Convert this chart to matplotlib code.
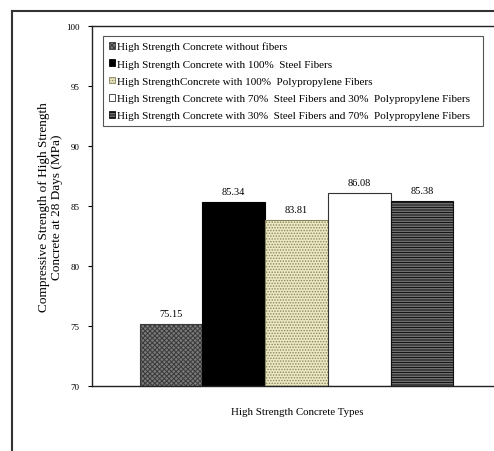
import numpy as np
import matplotlib.pyplot as plt
from matplotlib.patches import Patch
from matplotlib.lines import Line2D

plt.rcParams['font.family'] = ['Liberation Serif', 'DejaVu Serif']
plt.rcParams['hatch.linewidth'] = 0.7

labels = [
    "High Strength Concrete without fibers",
    "High Strength Concrete with 100%  Steel Fibers",
    "High StrengthConcrete with 100%  Polypropylene Fibers",
    "High Strength Concrete with 70%  Steel Fibers and 30%  Polypropylene Fibers",
    "High Strength Concrete with 30%  Steel Fibers and 70%  Polypropylene Fibers",
]
values = [75.15, 85.34, 83.81, 86.08, 85.38]
value_text = ["75.15", "85.34", "83.81", "86.08", "85.38"]
yticks = [70, 75, 80, 85, 90, 95, 100]

styles = [
    dict(facecolor='#7a7a7a', edgecolor='#3a3a3a', hatch='xxxxxxx'),
    dict(facecolor='#000000', edgecolor='#000000', hatch=None),
    dict(facecolor='#ece8c2', edgecolor='#8a8660', hatch='......'),
    dict(facecolor='#ffffff', edgecolor='#333333', hatch=None),
    dict(facecolor='#9a9a9a', edgecolor='#111111', hatch='----------'),
]

fig = plt.figure(figsize=(4.94, 4.52), dpi=100)
ax = fig.add_axes([92 / 494, 1 - 387 / 452, 409 / 494, 360 / 452])

x = np.arange(len(values))
for i, (v, st) in enumerate(zip(values, styles)):
    ax.bar(x[i], v - 70, bottom=70, width=1.0, linewidth=0.8, **st)
    ax.annotate(value_text[i], (x[i], v), xytext=(0, 4.5), textcoords='offset points',
                ha='center', va='bottom', fontsize=7.5)

ax.set_xlim(-1.26, 5.26)
ax.set_ylim(70, 100)
ax.set_yticks(yticks)
ax.set_yticklabels([str(t) for t in yticks], fontsize=6.5)
ax.set_xticks([])
ax.tick_params(axis='y', direction='out', length=3, width=0.8, pad=6)
for s in ax.spines.values():
    s.set_linewidth(1.0)
    s.set_color('#222222')

ax.set_ylabel("Compressive Strength of High Strength\nConcrete at 28 Days (MPa)",
              fontsize=9.5, linespacing=1.2)
ax.yaxis.set_label_coords(-0.07, 0.5)
ax.set_xlabel("High Strength Concrete Types", fontsize=7.8)
ax.xaxis.set_label_coords(0.501, -0.058)

handles = [Patch(**st, linewidth=0.6) for st in styles]
leg = ax.legend(handles, labels, loc='upper left',
                bbox_to_anchor=(11 / 409, 1 - 10 / 360, 380 / 409, 0), mode='expand',
                fontsize=8, handlelength=0.55, handleheight=0.55, handletextpad=0.25,
                labelspacing=0.72, borderpad=0.5, borderaxespad=0, fancybox=False,
                framealpha=1)
leg.get_frame().set_edgecolor('#555555')
leg.get_frame().set_linewidth(0.8)

# outer frame of the figure panel
fig.add_artist(Line2D([12 / 494, 12 / 494], [0, 1 - 12 / 452], color='#333333', lw=1.5))
fig.add_artist(Line2D([12 / 494, 1], [1 - 12 / 452, 1 - 12 / 452], color='#333333', lw=1.5))

fig.savefig('out.png', dpi=100)
